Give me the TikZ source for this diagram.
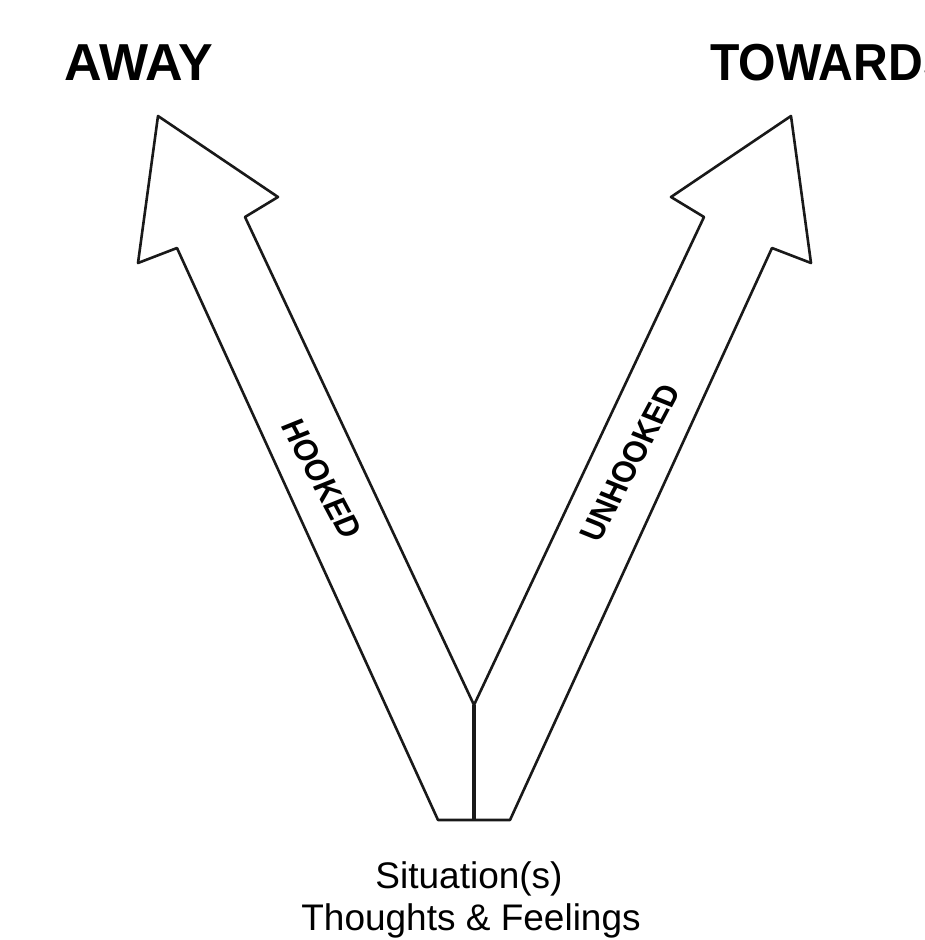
\documentclass[tikz,border=0pt]{standalone}
\usepackage{fontspec}
\setmainfont{Liberation Sans}
\begin{document}
\begin{tikzpicture}[x=1pt,y=-1pt,
  outline/.style={draw=black!90, line width=2.6pt, line join=round},
  stem/.style={draw=black!90, line width=3.2pt},
  title/.style={font=\fontsize{52}{60}\selectfont\bfseries, inner sep=0pt},
  shaftlabel/.style={font=\fontsize{29}{33}\selectfont\bfseries, inner sep=0pt, xscale=1.15},
  caption/.style={font=\fontsize{37}{42}\selectfont, inner sep=0pt, anchor=base}]
\useasboundingbox (0,0) rectangle (925,940);
\clip (0,0) rectangle (925,940);
% arrow outline
\coordinate (p1) at (438,820);
\coordinate (p2) at (177,248);
\coordinate (p3) at (138,263);
\coordinate (p4) at (158,116);
\coordinate (p5) at (278,197);
\coordinate (p6) at (245,217);
\coordinate (v)  at (474,705);
\coordinate (q6) at (704,217);
\coordinate (q5) at (671,197);
\coordinate (q4) at (791,116);
\coordinate (q3) at (811,263);
\coordinate (q2) at (772,248);
\coordinate (q1) at (510,820);
\coordinate (b)  at (474,820);
\draw[outline] (p1) -- (p2) -- (p3) -- (p4) -- (p5) -- (p6) -- (v)
  -- (q6) -- (q5) -- (q4) -- (q3) -- (q2) -- (q1) -- cycle;
\draw[stem] (v) -- (b);
% titles
\node[title, anchor=base] (away) at (139,80) {AWAY};
\node[title, anchor=base west, xscale=0.925] (towards) at (710,80) {TOWARDS};
% shaft labels
\node[shaftlabel, rotate=-65.2] (hooked) at (322,479) {HOOKED};
\node[shaftlabel, rotate=65.2] (unhooked) at (630,463) {UNHOOKED};
% captions
\node[caption] (sit) at (469,888) {Situation(s)};
\node[caption] (tf) at (471,930) {Thoughts \& Feelings};
\end{tikzpicture}
\end{document}
